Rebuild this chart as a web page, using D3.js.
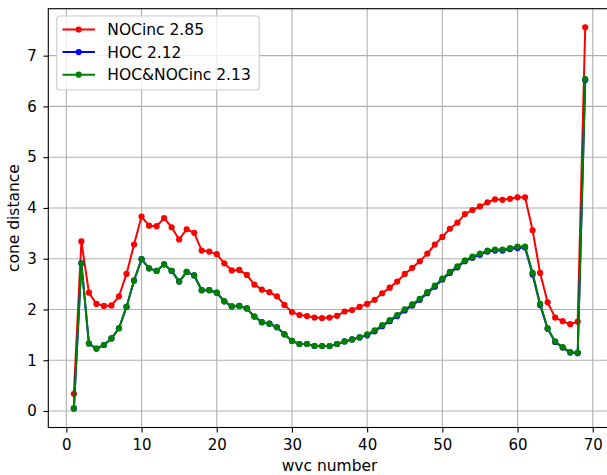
<!DOCTYPE html>
<html><head><meta charset="utf-8">
<script src="https://cdn.jsdelivr.net/npm/d3@7"></script>
<style>body{margin:0;background:#fff}svg{display:block;font-family:"DejaVu Sans",sans-serif}</style>
</head><body><svg id="c" width="607" height="475"></svg>
<script>
const wvc = d3.range(1, 70);
const nocinc = [0.34,3.34,2.33,2.11,2.07,2.08,2.26,2.70,3.28,3.83,3.65,3.64,3.80,3.62,3.38,3.58,3.51,3.16,3.14,3.09,2.91,2.77,2.78,2.68,2.49,2.39,2.34,2.26,2.09,1.95,1.89,1.87,1.84,1.83,1.84,1.875,1.96,1.99,2.05,2.11,2.19,2.32,2.43,2.55,2.70,2.82,2.95,3.10,3.28,3.43,3.59,3.71,3.88,3.96,4.03,4.11,4.17,4.16,4.18,4.21,4.21,3.56,2.72,2.14,1.84,1.77,1.71,1.76,7.56];
const hoc = [0.05,2.91,1.33,1.23,1.30,1.43,1.63,2.05,2.57,2.99,2.81,2.76,2.89,2.76,2.55,2.74,2.67,2.38,2.38,2.33,2.16,2.06,2.07,2.02,1.86,1.75,1.72,1.65,1.51,1.38,1.32,1.32,1.28,1.28,1.28,1.32,1.37,1.41,1.45,1.49,1.57,1.67,1.77,1.87,1.98,2.08,2.19,2.32,2.45,2.59,2.72,2.83,2.95,3.02,3.08,3.14,3.16,3.16,3.19,3.21,3.22,2.69,2.09,1.62,1.36,1.25,1.15,1.14,6.52];
const both = [0.05,2.91,1.33,1.23,1.30,1.43,1.63,2.05,2.57,2.99,2.81,2.76,2.89,2.76,2.55,2.74,2.67,2.38,2.38,2.33,2.16,2.06,2.07,2.02,1.86,1.75,1.72,1.65,1.51,1.38,1.32,1.32,1.28,1.28,1.28,1.32,1.37,1.41,1.45,1.51,1.59,1.69,1.79,1.89,2.00,2.10,2.21,2.34,2.47,2.61,2.74,2.85,2.97,3.04,3.10,3.16,3.18,3.18,3.21,3.24,3.24,2.72,2.11,1.63,1.37,1.26,1.16,1.15,6.54];
const seriesNames = ["NOCinc 2.85","HOC 2.12","HOC&NOCinc 2.13"];
const seriesColors = ["#ff0000","#0000ff","#008000"];
const xTicks = [0,10,20,30,40,50,60,70];
const yTicks = [0,1,2,3,4,5,6,7];

const svg = d3.select("#c");
const L = 48.3, R = 610.8, T = 8.7, B = 427.5;
const x = d3.scaleLinear().domain([-2.4, 72.4]).range([L, R]);
const y = d3.scaleLinear().domain([-0.325, 7.925]).range([B, T]);

// grid
const g = svg.append("g");
g.selectAll(".gx").data(xTicks).enter().append("line")
  .attr("x1", d=>x(d)).attr("x2", d=>x(d)).attr("y1", T).attr("y2", B)
  .attr("stroke", "#b0b0b0").attr("stroke-width", 1.1);
g.selectAll(".gy").data(yTicks).enter().append("line")
  .attr("x1", L).attr("x2", R).attr("y1", d=>y(d)).attr("y2", d=>y(d))
  .attr("stroke", "#b0b0b0").attr("stroke-width", 1.1);

// series
const data = [nocinc, hoc, both];
const line = d3.line().x((d,i)=>x(wvc[i])).y(d=>y(d));
data.forEach((s, k) => {
  svg.append("path").datum(s).attr("d", line).attr("fill", "none")
    .attr("stroke", seriesColors[k]).attr("stroke-width", 2).attr("stroke-linejoin","round");
  svg.append("g").selectAll("circle").data(s).enter().append("circle")
    .attr("cx", (d,i)=>x(wvc[i])).attr("cy", d=>y(d)).attr("r", 3.1)
    .attr("fill", seriesColors[k]);
});

// axes
const xAxis = d3.axisBottom(x).tickValues(xTicks).tickSize(4.9).tickPadding(6.5).tickFormat(d3.format("d"));
const yAxis = d3.axisLeft(y).tickValues(yTicks).tickSize(4.9).tickPadding(6.5).tickFormat(d3.format("d"));
const gx = svg.append("g").attr("transform", `translate(0,${B})`).call(xAxis);
const gy = svg.append("g").attr("transform", `translate(${L},0)`).call(yAxis);
[gx, gy].forEach(a => {
  a.select(".domain").remove();
  a.selectAll("line").attr("stroke", "#000").attr("stroke-width", 1.1);
  a.selectAll("text").attr("fill", "#000").style("font-size", "15px").style("font-family", "DejaVu Sans");
});

// spines
svg.append("rect").attr("x", L).attr("y", T).attr("width", R-L).attr("height", B-T)
  .attr("fill", "none").attr("stroke", "#000").attr("stroke-width", 1.1);

// axis labels
svg.append("text").attr("x", (L+R)/2).attr("y", 471).attr("text-anchor","middle")
  .style("font-size","15.5px").text("wvc number");
svg.append("text").attr("transform", `translate(19,${(T+B)/2}) rotate(-90)`).attr("text-anchor","middle")
  .style("font-size","15.5px").text("cone distance");

// legend
const lg = svg.append("g");
lg.append("rect").attr("x", 56.7).attr("y", 16).attr("width", 202.5).attr("height", 74)
  .attr("rx", 3).attr("fill", "#fff").attr("fill-opacity", 0.8).attr("stroke", "#cccccc").attr("stroke-width", 1.1);
seriesNames.forEach((n, k) => {
  const yy = 29.5 + k*22.6;
  lg.append("line").attr("x1", 62.5).attr("x2", 95).attr("y1", yy).attr("y2", yy)
    .attr("stroke", seriesColors[k]).attr("stroke-width", 2);
  lg.append("circle").attr("cx", 78.7).attr("cy", yy).attr("r", 3.1).attr("fill", seriesColors[k]);
  lg.append("text").attr("x", 107.3).attr("y", yy+5.6).style("font-size","15.5px").text(n);
});
</script></body></html>
